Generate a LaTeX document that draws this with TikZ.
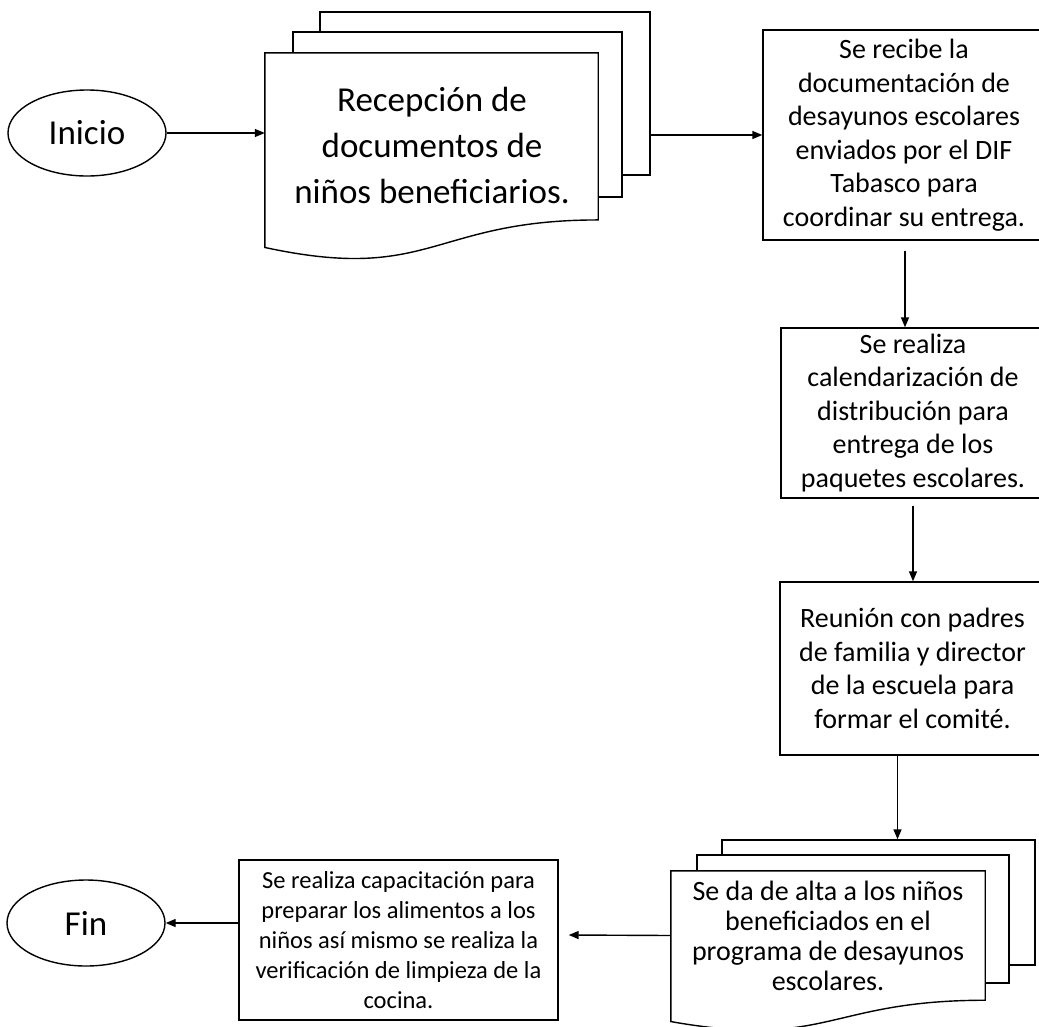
\documentclass[tikz,border=0pt]{standalone}
\usepackage{fontspec}
\setmainfont{Carlito}
\usetikzlibrary{shapes.geometric,arrows.meta,calc}
\tikzset{
  ln/.style={line width=1.4pt},
  arr/.style={ln,-{Triangle[length=10pt,width=8pt]}},
  terminal/.style={ellipse,draw,ln,minimum width=158pt,minimum height=86pt,inner sep=0pt,font=\fontsize{35}{40}\selectfont},
  procbox/.style={rectangle,draw,ln,inner sep=0pt,align=center},
  backpage/.style={rectangle,draw,ln,fill=white,inner sep=0pt},
  docarea/.style={rectangle,inner sep=0pt},
  midtext/.style={font=\fontsize{28}{33.5}\selectfont,align=center},
}
\begin{document}
\begin{tikzpicture}[x=1pt,y=1pt]
\useasboundingbox (0,0) rectangle (1039,-1026);
% Inicio
\node[terminal] (ini) at (87,-133) {Inicio};
% multidocument 1
\node[backpage,minimum width=330pt,minimum height=163pt] (p13) at (485,-93.5) {};
\node[backpage,minimum width=329pt,minimum height=165pt] (p12) at (457.5,-114.5) {};
\node[docarea,minimum width=333pt,minimum height=208pt] (d1) at (431.5,-157) {};
\draw[ln,fill=white] (d1.north west) -- (d1.north east) -- ($(d1.north east)!0.802!(d1.south east)$)
  .. controls ($(d1.north)!0.802!(d1.south)$) and ($(d1.north)!1.107!(d1.south)$) .. ($(d1.north west)!0.934!(d1.south west)$) -- cycle;
\node[font=\fontsize{35}{46}\selectfont,align=center] (t1) at (432,-145) {Recepción de\\documentos de\\niños beneficiarios.};
% box 2
\node[procbox,minimum width=282pt,minimum height=210pt,midtext] (box2) at (904,-135)
  {Se recibe la\\documentación de\\desayunos escolares\\enviados por el DIF\\Tabasco para\\coordinar su entrega.};
% box 3
\node[procbox,minimum width=264pt,minimum height=170pt,midtext] (box3) at (913,-413)
  {Se realiza\\calendarización de\\distribución para\\entrega de los\\paquetes escolares.};
% box 4
\node[procbox,minimum width=265pt,minimum height=173pt,midtext] (box4) at (912.5,-668.5)
  {Reunión con padres\\de familia y director\\de la escuela para\\formar el comité.};
% multidocument 2
\node[backpage,minimum width=313pt,minimum height=125pt] (p23) at (878.5,-902.5) {};
\node[backpage,minimum width=312pt,minimum height=128pt] (p22) at (853,-919) {};
\node[docarea,minimum width=314pt,minimum height=161pt] (d2) at (828,-951.5) {};
\draw[ln,fill=white] (d2.north west) -- (d2.north east) -- ($(d2.north east)!0.802!(d2.south east)$)
  .. controls ($(d2.north)!0.802!(d2.south)$) and ($(d2.north)!1.107!(d2.south)$) .. ($(d2.north west)!0.934!(d2.south west)$) -- cycle;
\node[font=\fontsize{28}{30}\selectfont,align=center] (t2) at (828,-936) {Se da de alta a los niños\\beneficiados en el\\programa de desayunos\\escolares.};
% box 5
\node[procbox,minimum width=319pt,minimum height=160pt,font=\fontsize{24.5}{30}\selectfont] (box5) at (398.5,-940)
  {Se realiza capacitación para\\preparar los alimentos a los\\niños así mismo se realiza la\\verificación de limpieza de la\\cocina.};
% Fin
\node[terminal] (fin) at (86,-923) {Fin};
% connectors
\draw[arr] (ini.east) -- (ini.east -| d1.west);
\draw[arr] (box2.west -| p13.east) -- (box2.west);
\draw[arr] ([xshift=1pt,yshift=-10pt]box2.south) -- ([xshift=1pt]box2.south |- box3.north);
\draw[arr] ([yshift=-7pt]box3.south) -- (box3.south |- box4.north);
\draw[arr] ([xshift=-15pt]box4.south) -- ([xshift=-15pt]box4.south |- p23.north);
\draw[arr] ([yshift=16pt]d2.west) -- ([xshift=10pt,yshift=5pt]box5.east);
\draw[arr] ([yshift=17pt]box5.west) -- (fin.east);
\end{tikzpicture}
\end{document}
